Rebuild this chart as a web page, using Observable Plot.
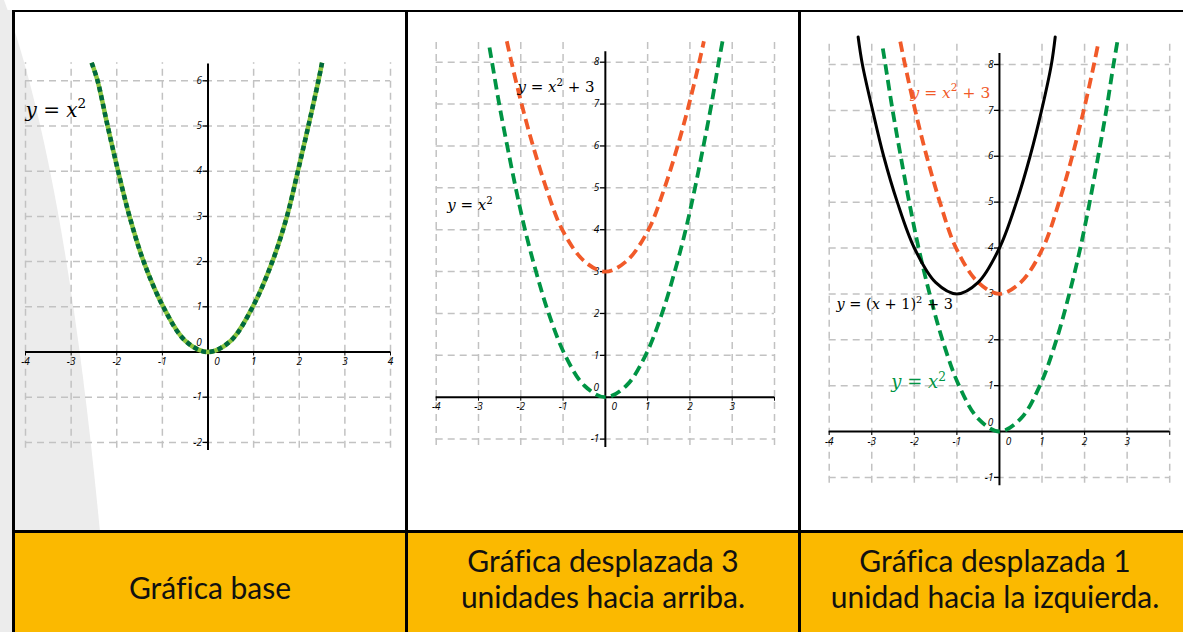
<!DOCTYPE html>
<html lang="es">
<head>
<meta charset="utf-8">
<script src="https://cdn.jsdelivr.net/npm/d3@7"></script>
<script src="https://cdn.jsdelivr.net/npm/@observablehq/plot@0.6"></script>
<style>
  html, body { margin: 0; padding: 0; background: #fff; }
  #page { position: relative; width: 1183px; height: 632px; overflow: hidden; background: #fff; }
  .bg { position: absolute; left: 0; top: 0; }
  .rule { position: absolute; background: #000; }
  .band { position: absolute; left: 14px; top: 532px; width: 1169px; height: 100px; background: #FBB900; }
  .caption { position: absolute; width: 400px; text-align: center; font-family: Lato, "Open Sans", sans-serif;
             font-size: 30px; line-height: 36px; color: #111; white-space: nowrap;
             font-variant-ligatures: none; font-feature-settings: "liga" 0; }
  .panel { position: absolute; top: 12px; }
</style>
</head>
<body>
<div id="page">
  <svg class="bg" width="1183" height="632">
    <path d="M0,0 L4,0 Q65,165 100,532 L100,632 L0,632 Z" fill="#ECECEC"/>
    <rect x="0" y="10" width="13" height="622" fill="#ECECEC"/>
  </svg>
  <div class="band"></div>
  <div id="p1" class="panel" style="left:14px"></div>
  <div id="p2" class="panel" style="left:407px"></div>
  <div id="p3" class="panel" style="left:800px"></div>
  <div class="rule" style="left:12px;top:10px;width:1171px;height:2px"></div>
  <div class="rule" style="left:12px;top:530px;width:1171px;height:2.5px"></div>
  <div class="rule" style="left:12px;top:10px;width:2.5px;height:622px"></div>
  <div class="rule" style="left:405px;top:10px;width:2.5px;height:622px"></div>
  <div class="rule" style="left:798px;top:10px;width:2.5px;height:622px"></div>
  <div id="captions"></div>
</div>
<script>
// Captions of the three columns
const captions = [
  ["Gráfica base"],
  ["Gráfica desplazada 3", "unidades hacia arriba."],
  ["Gráfica desplazada 1", "unidad hacia la izquierda."]
];

// Tick labels
const xLabelsWide = [-4, -3, -2, -1, 1, 2, 3, 4];
const xLabelsShort = [-4, -3, -2, -1, 1, 2, 3];
const yLabelsBase = [-2, -1, 1, 2, 3, 4, 5, 6];
const yLabelsTall = [-1, 1, 2, 3, 4, 5, 6, 7, 8];
const gridX = [-4, -3, -2, -1, 1, 2, 3, 4];

// y = x² (base graph)
const baseX = [-2.55, -2.42, -2.2, -1.97, -1.72, -1.41, -0.98, -0.5, 0, 0.5, 0.98, 1.41, 1.73, 1.97, 2.2, 2.42, 2.5];
const baseY = [6.4, 6, 5, 4, 3, 2, 1, 0.25, 0, 0.25, 1, 2, 3, 4, 5, 6, 6.4];

// y = x² (green, shifted panels)
const squareX = [-2.74, -2.68, -2.51, -2.32, -2.12, -1.9, -1.64, -1.34, -0.95, -0.5, 0, 0.5, 0.95, 1.34, 1.64, 1.9, 2.12, 2.32, 2.51, 2.68, 2.79];
const squareY = [8.35, 8, 7, 6, 5, 4, 3, 2, 1, 0.28, 0, 0.28, 1, 2, 3, 4, 5, 6, 7, 8, 8.6];

// y = x² + 3
const upX = [-2.33, -2.22, -1.98, -1.71, -1.4, -1.02, -0.5, 0, 0.5, 1.02, 1.4, 1.71, 1.98, 2.22, 2.33];
const upY = [8.5, 8, 7, 6, 5, 4, 3.25, 3, 3.25, 4, 5, 6, 7, 8, 8.5];

// y = (x + 1)² + 3
const leftX = [-3.32, -3.22, -2.98, -2.72, -2.4, -2, -1.5, -1, -0.5, 0, 0.4, 0.72, 0.99, 1.22, 1.31];
const leftY = [8.6, 8, 7, 6, 5, 4, 3.25, 3, 3.25, 4, 5, 6, 7, 8, 8.6];

const rows = (xs, ys) => xs.map((x, i) => ({x, y: ys[i]}));

const GREEN = "#009444", ORANGE = "#F15A29", LIGHT = "#8DC63F", DARK = "#00693E";
const GRID = "#C2C2C2";
const TICK_FONT = "'Open Sans', 'DejaVu Sans', sans-serif";
const EQ_FONT = "'DejaVu Serif', serif";

function panel(cfg) {
  const {left, width, xRange, yDomain, yRange, gridTop, gridBottom, axisTop, axisBottom,
         gridY, xLabels, yLabels, curves, equations} = cfg;
  const tickText = {fontStyle: "italic", fontSize: 10, fontFamily: TICK_FONT, fill: "#000"};
  const marks = [
    // dashed grid
    Plot.ruleX(gridX, {x: d => d, y1: gridBottom, y2: gridTop, stroke: GRID, strokeWidth: 1.5, strokeDasharray: "7,5"}),
    Plot.ruleY(gridY, {y: d => d, x1: -4, x2: 4, stroke: GRID, strokeWidth: 1.5, strokeDasharray: "7,5"}),
    // axes through the origin
    Plot.ruleY([0], {x1: -4, x2: 4, stroke: "#000", strokeWidth: 2}),
    Plot.ruleX([0], {y1: axisBottom, y2: axisTop, stroke: "#000", strokeWidth: 2}),
    Plot.ruleX(gridX, {x: d => d, y1: 0, y2: 0, insetBottom: -4, stroke: "#000", strokeWidth: 1}),
    Plot.ruleY(yLabels, {y: d => d, x1: 0, x2: 0, insetLeft: -5, stroke: "#000", strokeWidth: 1.3}),
    // tick labels
    Plot.text(xLabels, {x: d => d, y: 0, dy: 10, text: d => String(d), ...tickText}),
    Plot.text(["0"], {x: 0, y: 0, dx: 9, dy: 10, text: d => d, ...tickText}),
    Plot.text(yLabels, {x: 0, y: d => d, dx: -6, textAnchor: "end", text: d => String(d), ...tickText}),
    Plot.text(["0"], {x: 0, y: 0, dx: -9, dy: -9, text: d => d, ...tickText}),
    ...curves,
    ...equations.map(e => Plot.text([e.text], {
      x: e.x, y: e.y, text: d => d, textAnchor: "start", lineAnchor: "bottom",
      fill: e.color, fontSize: e.size, fontFamily: EQ_FONT
    }))
  ];
  const svg = Plot.plot({
    width, height: 518,
    x: {domain: [-4, 4], range: xRange.map(v => v - left), axis: null},
    y: {domain: yDomain, range: yRange.map(v => v - 12), axis: null},
    style: {background: "transparent", overflow: "visible"},
    marks
  });
  typeset(svg);
  return svg;
}

// Italic variables, upright numbers and operators, raised exponents
function typeset(svg) {
  d3.select(svg).selectAll("text").each(function () {
    const src = this.textContent;
    if (!src.includes("=")) return;
    const size = parseFloat(d3.select(this.parentNode).attr("font-size")) || 16;
    const el = d3.select(this).text(null).style("white-space", "pre");
    const tokens = src.match(/\^\d|[a-z]|[^a-z^]+/g);
    let raised = false;
    for (const t of tokens) {
      const span = el.append("tspan");
      if (t[0] === "^") {
        span.text(t.slice(1)).attr("font-size", size * 0.68).attr("dy", -size * 0.42);
        raised = true;
      } else {
        span.text(t).attr("font-style", /[a-z]/.test(t) ? "italic" : "normal");
        if (raised) { span.attr("dy", size * 0.42); raised = false; }
      }
    }
  });
}

const dashed = (data, color) => Plot.line(data, {x: "x", y: "y", stroke: color, strokeWidth: 3.8,
  strokeDasharray: "10.5,5.5", strokeLinecap: "butt", curve: "catmull-rom"});

const p1 = panel({
  left: 14, width: 392,
  xRange: [25, 390], yDomain: [-2, 6], yRange: [441.9, 80.3],
  gridTop: 6.4, gridBottom: -2.13, axisTop: 6.37, axisBottom: -2.18,
  gridY: [-2, -1, 1, 2, 3, 4, 5, 6], xLabels: xLabelsWide, yLabels: yLabelsBase,
  curves: [
    Plot.line(rows(baseX, baseY), {x: "x", y: "y", stroke: LIGHT, strokeWidth: 4.5, strokeLinecap: "butt", curve: "catmull-rom"}),
    Plot.line(rows(baseX, baseY), {x: "x", y: "y", stroke: DARK, strokeWidth: 4.5, strokeDasharray: "5,3.5", strokeLinecap: "butt", curve: "catmull-rom"})
  ],
  equations: [{text: "y = x^2", x: -4, y: 5.21, color: "#000", size: 20}]
});

const p2 = panel({
  left: 407, width: 391,
  xRange: [435.7, 774.0], yDomain: [-1, 8], yRange: [438.6, 61.7],
  gridTop: 8.47, gridBottom: -1.15, axisTop: 8.25, axisBottom: -1.2,
  gridY: [-1, 1, 2, 3, 4, 5, 6, 7, 8], xLabels: xLabelsShort, yLabels: yLabelsTall,
  curves: [dashed(rows(squareX, squareY), GREEN), dashed(rows(upX, upY), ORANGE)],
  equations: [
    {text: "y = x^2 + 3", x: -2.08, y: 7.28, color: "#000", size: 15},
    {text: "y = x^2", x: -3.74, y: 4.46, color: "#000", size: 15}
  ]
});

const p3 = panel({
  left: 800, width: 383,
  xRange: [828.7, 1169.2], yDomain: [-1, 8], yRange: [476.9, 64.0],
  gridTop: 8.49, gridBottom: -1.13, axisTop: 8.24, axisBottom: -1.18,
  gridY: [-1, 1, 2, 3, 4, 5, 6, 7, 8], xLabels: xLabelsShort, yLabels: yLabelsTall,
  curves: [
    dashed(rows(squareX, squareY), GREEN),
    dashed(rows(upX, upY), ORANGE),
    Plot.line(rows(leftX, leftY), {x: "x", y: "y", stroke: "#000", strokeWidth: 3, curve: "catmull-rom"})
  ],
  equations: [
    {text: "y = x^2 + 3", x: -2.09, y: 7.28, color: ORANGE, size: 15.5},
    {text: "y = (x + 1)^2 + 3", x: -3.83, y: 2.67, color: "#000", size: 14.5},
    {text: "y = x^2", x: -2.54, y: 0.94, color: GREEN, size: 18}
  ]
});

document.getElementById("p1").append(p1);
document.getElementById("p2").append(p2);
document.getElementById("p3").append(p3);

// Caption row
const centers = [210, 603, 995];
const tops = [569, 542, 542];
const cap = document.getElementById("captions");
captions.forEach((lines, i) => {
  const div = document.createElement("div");
  div.className = "caption";
  div.style.left = (centers[i] - 200) + "px";
  div.style.top = tops[i] + "px";
  div.innerHTML = lines.join("<br>");
  cap.append(div);
});
</script>
</body>
</html>
